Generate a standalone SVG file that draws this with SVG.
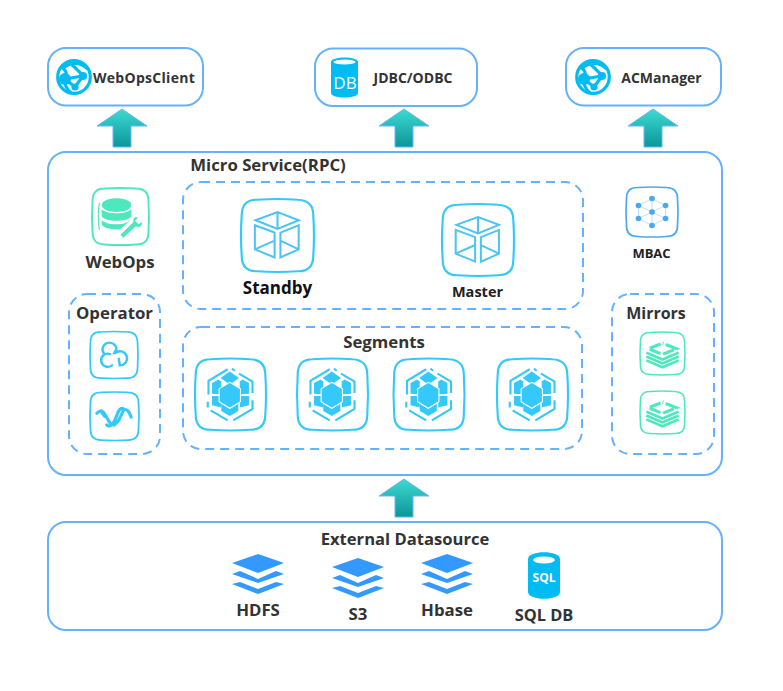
<svg xmlns="http://www.w3.org/2000/svg" width="783" height="691" viewBox="0 0 783 691">
<style>
text{font-family:"Open Sans","Noto Sans","Liberation Sans",sans-serif;font-weight:700;fill:#333;text-anchor:middle}
.box{fill:#fff;stroke:#66b1ff;stroke-width:2}
.dash{fill:none;stroke:#66b1ff;stroke-width:2;stroke-dasharray:9 6}
.sq{fill:#fff;stroke-width:3.4}
.cy{stroke:#35c8fb;fill:none}
.mi{stroke:#4de8bd;fill:none}
.arrow{fill:url(#ag);stroke:#6cb4f5;stroke-width:1}
.lay{fill:#3399ff}
.g{fill:#00bcf2}
</style>
<defs>
<linearGradient id="ag" x1="0" y1="0" x2="0" y2="1"><stop offset="0" stop-color="#3ddbd2"/><stop offset="1" stop-color="#0b9599"/></linearGradient>
<path id="sq" d="M22 1Q50-1 78 1Q99 2 99 22Q101 50 99 78Q99 99 78 99Q50 101 22 99Q1 99 1 78Q-1 50 1 22Q1 1 22 1Z"/>
<path id="ar" class="arrow" d="M0 0L25 17H9V38H-9V17H-25Z"/>
<g id="globe">
<circle r="16.300" fill="#fff" stroke="#00bcf2" stroke-width="3.200"/>
<path d="M-14-10Q-5-7-9 2Q-10 10-3 16M-11-9Q2-19 14-8M-9 2L9-1L1 10L-9 2M-5-15Q4-7 9-1" fill="none" stroke="#00bcf2" stroke-width="3.200"/>
<circle cx="-9" cy="2" r="6" class="g"/><circle cx="9" cy="-1" r="4" class="g"/><circle cx="1" cy="10" r="3.600" class="g"/>
</g>
<g id="box3d" fill="none" stroke="#4cc4f5" stroke-width="2.800" transform="translate(2,3)">
<path d="M18 26L48 15L77 26L48 38ZM48 15V38M17 33L44 43V77L17 66ZM52 43L77 33V66L52 77ZM17 66L44 54M52 54L77 66"/>
</g>
<g id="hexi">
<path d="M46 15L19 31V50M18 60V68M22 72L46 86M54 86L81 70V58M81 48V32L62 21M56 17L52 14" fill="none" stroke="#35c8fb" stroke-width="3"/>
<g fill="#35c8fb">
<path d="M49 18L62 27L49 36L36 27Z"/>
<path d="M24 34L33 29L37 32V50L24 49Z"/>
<path d="M76 34L67 29L63 32V50L76 49Z"/>
<path d="M24 52L37 52V68L24 65Z"/>
<path d="M76 52L63 52V68L76 65Z"/>
<path d="M37 63L49 70L61 63V73L49 80L37 73Z"/>
<path d="M49 33L64 42V60L49 69L34 60V42Z" stroke="#fff" stroke-width="1.500"/>
</g>
</g>
<g id="stackm" fill="none" stroke="#4de8bd">
<path d="M50 26L81 39L50 52L19 39Z" stroke-width="7" stroke-dasharray="26 6" stroke-dashoffset="-8"/>
<path d="M14 48L50 64L86 48M14 57L50 73L86 57M14 66L50 82L86 66" stroke-width="6"/>
</g>
<g id="layers" class="lay">
<path d="M-26 9L0 0L26 9L0 19Z"/>
<path d="M-26 20L-18 17L0 25L18 17L26 20L0 29Z"/>
<path d="M-26 30L-18 28L0 35L18 28L26 30L0 40Z"/>
</g>
</defs>

<g id="connectors">
<use href="#ar" x="122" y="109"/>
<use href="#ar" x="404" y="109"/>
<use href="#ar" x="653" y="109"/>
<use href="#ar" x="404" y="479"/>
</g>

<g id="webopsclient">
<rect class="box" x="48" y="48" width="155" height="57.5" rx="18"/>
<use href="#globe" x="74" y="77"/>
<text x="144" y="83" font-size="14" letter-spacing=".3">WebOpsClient</text>
</g>
<g id="jdbc">
<rect class="box" x="315" y="48.500" width="162" height="57.500" rx="18"/>
<path class="g" d="M331 62C331 56 358 56 358 62V93C358 99 331 99 331 93Z"/>
<ellipse cx="344.500" cy="62" rx="11" ry="2.500" fill="#fff"/>
<text x="345" y="89" font-size="17" style="font-weight:400;fill:#fff">DB</text>
<text x="413" y="83" font-size="14">JDBC/ODBC</text>
</g>
<g id="acmanager">
<rect class="box" x="566" y="48" width="155" height="57.500" rx="18"/>
<use href="#globe" x="593" y="77"/>
<text x="661.500" y="83" font-size="14">ACManager</text>
</g>

<g id="microservice">
<rect class="box" x="48" y="152" width="674" height="323" rx="18"/>
<text x="268" y="171" font-size="16.800">Micro Service(RPC)</text>
</g>

<g id="webops">
<g transform="translate(92,188) scale(.57)"><use href="#sq" class="sq mi" stroke-width="3.400"/>
<g fill="#4de8bd">
<path d="M17 30C17 14 69 14 69 30C69 46 17 46 17 30Z"/>
<path d="M17 37C24 47 62 47 69 37V50C62 60 24 60 17 50Z"/>
<path d="M17 56C24 66 62 66 66 56V58L50 72C34 74 20 70 17 64Z"/>
<path d="M13 26Q9 48 13 74" fill="none" stroke="#4de8bd" stroke-width="2"/>
<path d="M49 82L72 60C70 52 76 48 82 52L76 57L82 63L88 58C90 66 84 72 77 68L55 88Z" stroke="#fff" stroke-width="1.500"/>
</g></g>
<text x="120" y="268" font-size="16.800">WebOps</text>
</g>

<g id="standby">
<g transform="translate(241,199) scale(.73)"><use href="#sq" class="sq cy" style="stroke-width:3"/><use href="#box3d"/></g>
<text x="277.500" y="294" font-size="17" style="fill:#111">Standby</text>
</g>
<g id="master">
<g transform="translate(442,204) scale(.72)"><use href="#sq" class="sq cy" style="stroke-width:3"/><use href="#box3d"/></g>
<text x="477.500" y="297" font-size="14.500" style="fill:#222">Master</text>
</g>
<rect id="standby-master-group" class="dash" x="183" y="182" width="400" height="127" rx="18"/>

<g id="segments">
<rect class="dash" x="183" y="327" width="399" height="122" rx="18"/>
<text x="384" y="348" font-size="16.800">Segments</text>
</g>
<g id="segment-1" transform="translate(195,358.500) scale(.71,.72)"><use href="#sq" class="sq cy" style="stroke-width:3"/><use href="#hexi"/></g>
<g id="segment-2" transform="translate(297,358.500) scale(.71,.72)"><use href="#sq" class="sq cy" style="stroke-width:3"/><use href="#hexi"/></g>
<g id="segment-3" transform="translate(393.500,358.500) scale(.71,.72)"><use href="#sq" class="sq cy" style="stroke-width:3"/><use href="#hexi"/></g>
<g id="segment-4" transform="translate(497,358.500) scale(.71,.72)"><use href="#sq" class="sq cy" style="stroke-width:3"/><use href="#hexi"/></g>

<g id="operator">
<rect class="dash" x="69" y="294" width="91" height="160" rx="18"/>
<text x="114.500" y="319" font-size="16.800">Operator</text>
<g transform="translate(90,331.500) scale(.48,.47)"><use href="#sq" class="sq cy" style="stroke-width:3.600"/>
<path d="M29 47A14.500 14.500 0 1 1 55 38L50 46M42 48A14 14 0 1 0 46 72M52 46A15 15 0 1 1 62 72L60 58" fill="none" stroke="#35c8fb" stroke-width="5" stroke-linecap="round"/></g>
<g transform="translate(90,392) scale(.49,.485)"><use href="#sq" class="sq cy" style="stroke-width:3.600"/>
<path d="M14 44C24 32 30 44 36 56S48 72 56 62S66 36 72 36S80 42 84 52M34 68C42 76 50 62 54 50S62 30 70 36M24 42L30 50M46 66L50 68" fill="none" stroke="#35c8fb" stroke-width="6.500" stroke-linecap="round"/></g>
</g>

<g id="mbac">
<g transform="translate(626,187) scale(.52,.5)"><use href="#sq" class="sq" fill="#fff" style="stroke:#4aa8ee;stroke-width:3.200"/>
<path d="M50 23L24 37V63L50 77L76 63V37ZM24 37L50 50L76 37M50 23V77M24 63L50 50L76 63" fill="none" stroke="#a8d8f8" stroke-width="1.500"/>
<g fill="#4aa8ee"><circle cx="50" cy="23" r="5.500"/><circle cx="24" cy="37" r="5.500"/><circle cx="76" cy="37" r="5.500"/><circle cx="50" cy="50" r="5.500"/><circle cx="24" cy="63" r="5.500"/><circle cx="76" cy="63" r="5.500"/><circle cx="50" cy="77" r="5.500"/></g></g>
<text x="651.500" y="258" font-size="13" style="fill:#222">MBAC</text>
</g>

<g id="mirrors">
<rect class="dash" x="612" y="294" width="102" height="160" rx="18"/>
<text x="656" y="319" font-size="16">Mirrors</text>
<g transform="translate(640,332) scale(.45,.43)"><use href="#sq" class="sq mi" style="stroke-width:3.400"/><use href="#stackm"/></g>
<g transform="translate(640,391) scale(.45,.43)"><use href="#sq" class="sq mi" style="stroke-width:3.400"/><use href="#stackm"/></g>
</g>

<g id="external">
<rect class="box" x="48" y="522" width="674" height="108" rx="18"/>
<text x="405" y="545" font-size="16.600">External Datasource</text>
</g>
<g id="hdfs"><use href="#layers" x="258" y="554"/><text x="258" y="616" font-size="16.800">HDFS</text></g>
<g id="s3"><use href="#layers" x="358" y="558"/><text x="358" y="620" font-size="16.800">S3</text></g>
<g id="hbase"><use href="#layers" x="447" y="554"/><text x="447" y="616" font-size="16.800">Hbase</text></g>
<g id="sqldb">
<path class="g" d="M528 559C528 550 560 550 560 559V592C560 601 528 601 528 592Z"/>
<ellipse cx="544" cy="560" rx="11" ry="3.500" fill="#fff"/>
<text x="544" y="582" font-size="12" style="fill:#fff">SQL</text>
<text x="544" y="621" font-size="16.400">SQL DB</text>
</g>
</svg>
